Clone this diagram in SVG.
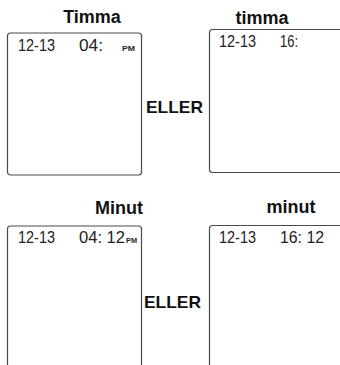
<svg xmlns="http://www.w3.org/2000/svg" width="340" height="365" viewBox="0 0 340 365">
<style>
.panel{fill:#fff;stroke:#4a4a4a;stroke-width:1.2}
.title{font-family:"Liberation Sans",Arial,sans-serif;font-weight:bold;font-size:18px;fill:#111;text-anchor:middle}
.or{font-family:"Liberation Sans",Arial,sans-serif;font-weight:bold;font-size:17px;fill:#111}
.lcd{font-family:"Liberation Sans",Arial,sans-serif;font-size:16px;fill:#222}
.pm{font-family:"Liberation Sans",Arial,sans-serif;font-weight:bold;font-size:7px;fill:#222}
</style>
<rect width="340" height="365" fill="#fff"/>
<g id="timma12">
<text class="title" x="92" y="23">Timma</text>
<rect class="panel" x="7.5" y="33" width="134" height="142" rx="3"/>
<text class="lcd" x="18" y="51" textLength="37" lengthAdjust="spacingAndGlyphs">12-13</text>
<text class="lcd" x="79" y="51" textLength="24" lengthAdjust="spacingAndGlyphs">04:</text>
<text class="pm" x="122" y="51" textLength="13" lengthAdjust="spacingAndGlyphs">PM</text>
</g>
<g id="eller1"><text class="or" x="146" y="113" textLength="57" lengthAdjust="spacingAndGlyphs">ELLER</text></g>
<g id="timma24">
<text class="title" x="262" y="24">timma</text>
<rect class="panel" x="209.5" y="29.5" width="200" height="143" rx="3"/>
<text class="lcd" x="219" y="47" textLength="37" lengthAdjust="spacingAndGlyphs">12-13</text>
<text class="lcd" x="280" y="47" textLength="18" lengthAdjust="spacingAndGlyphs">16:</text>
</g>
<g id="minut12">
<text class="title" x="119" y="214">Minut</text>
<rect class="panel" x="7.5" y="226" width="134" height="160" rx="3"/>
<text class="lcd" x="18" y="243" textLength="37" lengthAdjust="spacingAndGlyphs">12-13</text>
<text class="lcd" x="79" y="243" textLength="46" lengthAdjust="spacingAndGlyphs">04: 12</text>
<text class="pm" x="126" y="243" textLength="11" lengthAdjust="spacingAndGlyphs">PM</text>
</g>
<g id="eller2"><text class="or" x="144" y="308" textLength="57" lengthAdjust="spacingAndGlyphs">ELLER</text></g>
<g id="minut24">
<text class="title" x="291" y="213">minut</text>
<rect class="panel" x="209.5" y="225.5" width="200" height="160" rx="3"/>
<text class="lcd" x="219" y="243" textLength="37" lengthAdjust="spacingAndGlyphs">12-13</text>
<text class="lcd" x="280" y="243" textLength="44" lengthAdjust="spacingAndGlyphs">16: 12</text>
</g>
<g id="connectors"/>
</svg>
